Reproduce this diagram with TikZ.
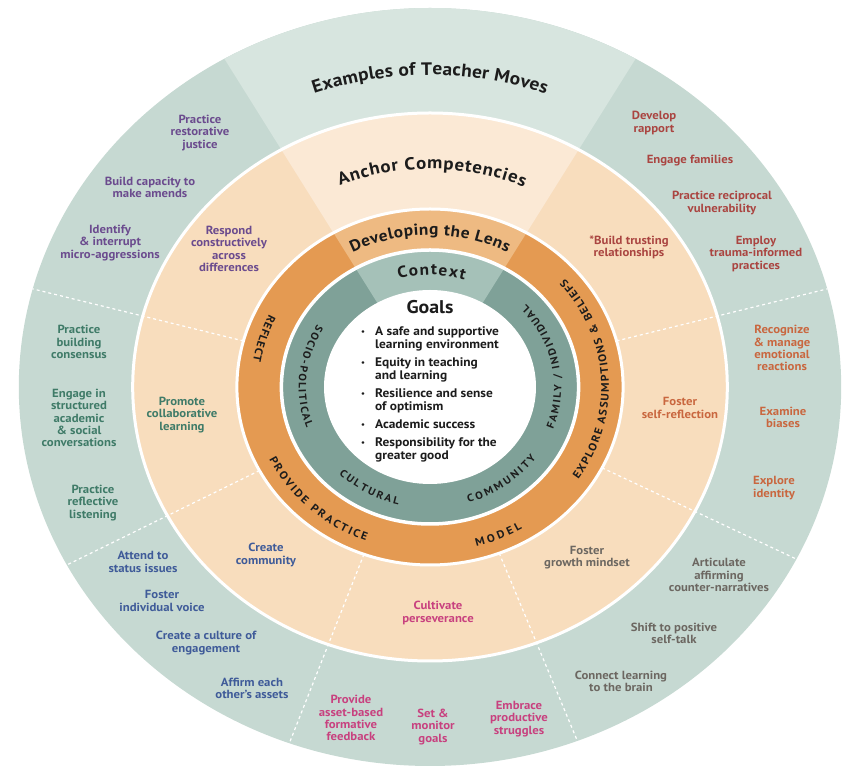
\documentclass[tikz,border=0pt]{standalone}
\usepackage{fontspec}
\setmainfont{PT Sans}[FakeStretch=1.08]
\usetikzlibrary{decorations.text}
\definecolor{outerc}{HTML}{C6D9D2}
\definecolor{outerl}{HTML}{D7E5DF}
\definecolor{anchc}{HTML}{F8DDBD}
\definecolor{anchl}{HTML}{FBE9D5}
\definecolor{lensc}{HTML}{E49A52}
\definecolor{lensl}{HTML}{EEBA82}
\definecolor{ctxc}{HTML}{7FA198}
\definecolor{ctxl}{HTML}{A5C1B8}
\definecolor{cpur}{HTML}{6B4B8E}
\definecolor{cgrn}{HTML}{3F7B68}
\definecolor{cblu}{HTML}{3F5B99}
\definecolor{cpnk}{HTML}{C8417F}
\definecolor{cgry}{HTML}{6C6761}
\definecolor{corg}{HTML}{C9673F}
\definecolor{cred}{HTML}{AA4541}
\definecolor{ink}{HTML}{1C1C1C}
\newcommand\fEx{\bfseries\fontsize{18}{20}\selectfont}
\newcommand\fAn{\bfseries\fontsize{17.5}{19}\selectfont}
\newcommand\fLe{\bfseries\fontsize{16}{18}\selectfont}
\newcommand\fCo{\bfseries\fontsize{16}{18}\selectfont}
\newcommand\fLs{\bfseries\fontsize{11}{12}\selectfont}
\newcommand\fCs{\bfseries\fontsize{10.5}{12}\selectfont}
\newcommand\curvetext[5]{\path[decorate,decoration={text along path,text align=fit to path,text color=ink,text={#1}}] (#2:#4pt and #5pt) arc[start angle=#2,end angle=#3,x radius=#4pt,y radius=#5pt];}
\newcommand\wedgefill[3]{\fill[#1] (0,0) -- (60:#2pt and #3pt) arc[start angle=60,end angle=120,x radius=#2pt,y radius=#3pt] -- cycle;}
\newcommand\divline[1]{\draw[divider] (#1:193.1pt and 178pt) -- (#1:411.2pt and 379pt);}
\newcommand\gbul{\makebox[14pt][l]{\fontsize{8}{8}\selectfont\raisebox{1pt}{•}}}
\begin{document}
\begin{tikzpicture}[x=1pt,y=1pt,
  every node/.style={inner sep=0pt, align=center},
  mv/.style={font=\bfseries\fontsize{11.8}{12.2}\selectfont},
  purp/.style={mv,text=cpur},
  grn/.style={mv,text=cgrn},
  blu/.style={mv,text=cblu},
  pnk/.style={mv,text=cpnk},
  gry/.style={mv,text=cgry},
  org/.style={mv,text=corg},
  rdd/.style={mv,text=cred},
  divider/.style={white, line width=1.2pt, dash pattern=on 3pt off 3pt},
  gapline/.style={white, line width=3pt}]
\useasboundingbox (-430,-380) rectangle (414,387);
% rings
\fill[outerc] (0,0) ellipse[x radius=411.2pt, y radius=379pt];
\wedgefill{outerl}{411.2}{379}
\fill[anchc] (0,0) ellipse[x radius=297.3pt, y radius=274pt];
\wedgefill{anchl}{297.3}{274}
\fill[lensc] (0,0) ellipse[x radius=193.1pt, y radius=178pt];
\wedgefill{lensl}{193.1}{178}
\fill[ctxc] (0,0) ellipse[x radius=148.6pt, y radius=137pt];
\wedgefill{ctxl}{148.6}{137}
\fill[white] (0,0) ellipse[x radius=106pt, y radius=97pt];
\draw[gapline] (0,0) ellipse[x radius=297.3pt, y radius=274pt];
\draw[gapline] (0,0) ellipse[x radius=193.1pt, y radius=178pt];
\draw[gapline, line width=3.5pt] (0,0) ellipse[x radius=148.6pt, y radius=137pt];
% dividers
\divline{15}
\divline{165}
\divline{208}
\divline{250}
\divline{291}
\divline{333}
% curved titles
\curvetext{|\fEx|Examples of Teacher Moves}{110}{70}{338.5}{312}
\curvetext{|\fAn|Anchor Competencies}{112.4}{66.6}{236.5}{218}
\curvetext{|\fLe|Developing the Lens}{118}{62}{164.9}{152}
\curvetext{|\fCo|Context}{105}{73.5}{121.5}{112}
% lens labels
\curvetext{|\fLs|REFLECT}{154}{171}{179.0}{165}
\curvetext{|\fLs|PROVIDE PRACTICE}{206}{249}{179.0}{165}
\curvetext{|\fLs|MODEL}{285}{301}{179.0}{165}
\curvetext{|\fLs|EXPLORE ASSUMPTIONS {\&} BELIEFS}{-34}{41}{179.0}{165}
% context labels
\curvetext{|\fCs|SOCIO-POLITICAL}{149}{200}{131.3}{121}
\curvetext{|\fCs|CULTURAL}{226}{256}{131.3}{121}
\curvetext{|\fCs|COMMUNITY}{287}{324}{131.3}{121}
\curvetext{|\fCs|FAMILY / INDIVIDUAL}{-20.5}{43}{131.3}{121}
% goals
\node[font=\bfseries\fontsize{18.4}{20}\selectfont, text=ink] (goals) at (0,80) {Goals};
\node[anchor=north west, font=\bfseries\fontsize{12.4}{13}\selectfont, text=ink, align=left] (glist) at (-69,61) {%
\begin{tabular}{@{}l@{}l@{}}
\gbul & A safe and supportive\\
 & learning environment\\[5pt]
\gbul & Equity in teaching\\
 & and learning\\[5pt]
\gbul & Resilience and sense\\
 & of optimism\\[5pt]
\gbul & Academic success\\[5pt]
\gbul & Responsibility for the\\
 & greater good
\end{tabular}};
% purple
\node[purp] (p1) at (-230,254) {Practice\\restorative\\justice};
\node[purp] (p2) at (-280,200) {Build capacity to\\make amends};
\node[purp] (p3) at (-320,144) {Identify\\\& interrupt\\micro-aggressions};
\node[purp] (pa) at (-201,138) {Respond\\constructively\\across\\differences};
% green
\node[grn] (g1) at (-351,45) {Practice\\building\\consensus};
\node[grn] (g2) at (-351,-31) {Engage in\\structured\\academic\\\& social\\conversations};
\node[grn] (g3) at (-337,-116) {Practice\\reflective\\listening};
\node[grn] (ga) at (-248,-28) {Promote\\collaborative\\learning};
% blue
\node[blu] (b1) at (-287,-175) {Attend to\\status issues};
\node[blu] (b2) at (-268,-214) {Foster\\individual voice};
\node[blu] (b3) at (-224,-256) {Create a culture of\\engagement};
\node[blu] (b4) at (-178,-301) {Affirm each\\other's assets};
\node[blu] (ba) at (-164,-168) {Create\\community};
% pink
\node[pnk] (k1) at (-79,-331) {Provide\\asset-based\\formative\\feedback};
\node[pnk] (k2) at (3,-340) {Set \&\\monitor\\goals};
\node[pnk] (k3) at (89,-332) {Embrace\\productive\\struggles};
\node[pnk] (ka) at (8,-226) {Cultivate\\perseverance};
% gray
\node[gry] (y1) at (289,-188) {Articulate\\affirming\\counter-narratives};
\node[gry] (y2) at (244,-246) {Shift to positive\\self-talk};
\node[gry] (y3) at (191,-294) {Connect learning\\to the brain};
\node[gry] (ya) at (157,-171) {Foster\\growth mindset};
% orange
\node[org] (o1) at (352,39) {Recognize\\\& manage\\emotional\\reactions};
\node[org] (o2) at (353,-30) {Examine\\biases};
\node[org] (o3) at (344,-101) {Explore\\identity};
\node[org] (oa) at (250,-21) {Foster\\self-reflection};
% red
\node[rdd] (r1) at (224,264) {Develop\\rapport};
\node[rdd] (r2) at (260,226) {Engage families};
\node[rdd] (r3) at (292,184) {Practice reciprocal\\vulnerability};
\node[rdd] (r4) at (326,133) {Employ\\trauma-informed\\practices};
\node[rdd] (ra) at (199,139.5) {*Build trusting\\relationships};
\end{tikzpicture}
\end{document}
